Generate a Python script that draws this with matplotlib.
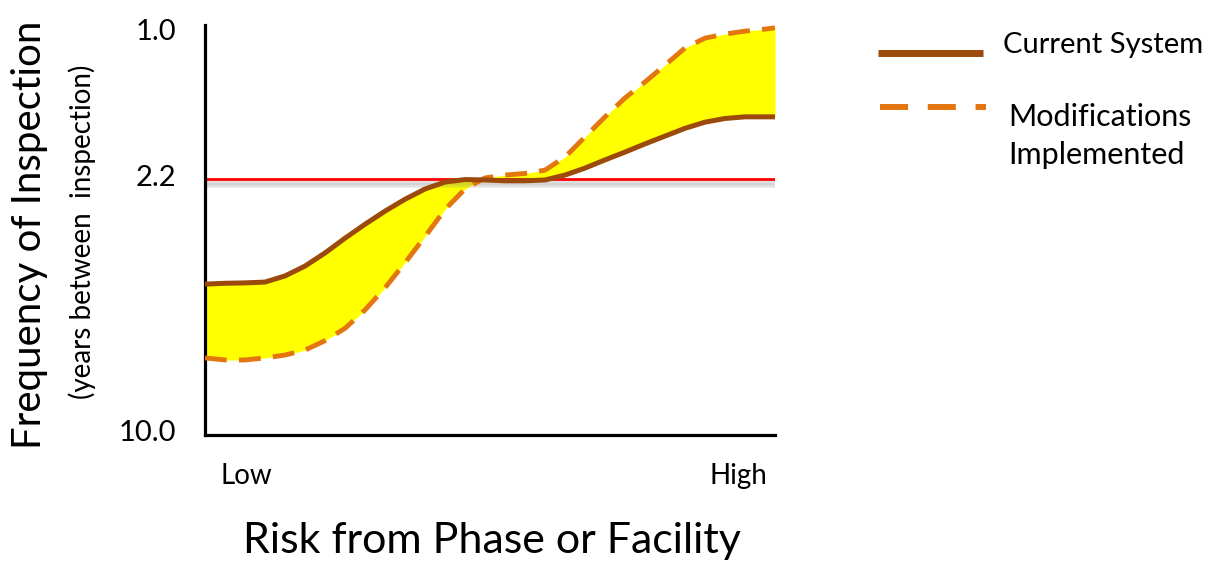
import matplotlib.pyplot as plt
import matplotlib.patheffects as pe
from matplotlib.lines import Line2D

# risk position along the x axis (0 = low, 100 = high)
risk = [0, 3.51, 7.02, 10.53, 14.04, 17.54, 21.05, 24.56, 28.07, 31.58,
        35.09, 38.60, 42.11, 45.61, 49.12, 52.63, 56.14, 59.65, 63.16, 66.67,
        70.18, 73.68, 77.19, 80.70, 84.21, 87.72, 91.23, 94.74, 98.25, 100]
# vertical position on the inspection-frequency axis (0 = 10.0 yrs, 100 = 1.0 yr)
current_system = [36.8, 37.0, 37.1, 37.3, 38.8, 41.2, 44.4, 48.0, 51.4, 54.6,
                  57.5, 60.0, 61.7, 62.3, 62.2, 62.0, 62.0, 62.2, 63.4, 65.1,
                  67.1, 69.0, 71.0, 72.9, 74.8, 76.3, 77.2, 77.6, 77.6, 77.6]
modifications = [18.8, 18.3, 18.3, 18.8, 19.5, 20.7, 23.0, 26.0, 30.5, 35.9,
                 42.0, 48.4, 55.0, 60.0, 62.7, 63.4, 63.8, 64.6, 67.8, 72.7,
                 77.6, 82.2, 86.1, 90.2, 94.4, 96.8, 97.8, 98.5, 99.0, 99.3]
threshold = 62.4
tick_pos = [1.2, 63.4, 98.8]
tick_labels = ['10.0', '2.2', '1.0']

brown = '#9C4A0B'
orange = '#E4760F'

plt.rcParams['font.family'] = ['Lato', 'DejaVu Sans']

fig = plt.figure(figsize=(12.11, 5.61), dpi=100)
ax = fig.add_axes([205 / 1211, 1 - 435 / 561, 570 / 1211, 410 / 561])

ax.fill_between(risk, current_system, modifications, color='#FFFF00', lw=0, zorder=1)
shadow = [pe.SimpleLineShadow(offset=(0, -o), shadow_color='gray', alpha=0.12, linewidth=3)
          for o in (2, 3, 4, 5)]
ax.axhline(threshold, color='red', lw=2, zorder=2, path_effects=shadow + [pe.Normal()])
ax.plot(risk, modifications, color=orange, lw=3.5, dashes=(4.5, 2.5), zorder=3)
ax.plot(risk, current_system, color=brown, lw=3.6, zorder=4,
        solid_capstyle='butt', solid_joinstyle='round')

ax.set_xlim(0, 100)
ax.set_ylim(0, 100)
for s in ['top', 'right']:
    ax.spines[s].set_visible(False)
for s in ['left', 'bottom']:
    ax.spines[s].set_linewidth(2.3)
ax.set_yticks(tick_pos)
ax.set_yticklabels(tick_labels, fontsize=21)
ax.tick_params(axis='y', length=0, pad=21)
ax.set_xticks([])

ax.text(0.072, -0.1, 'Low', transform=ax.transAxes, fontsize=20, ha='center', va='center')
ax.text(0.935, -0.1, 'High', transform=ax.transAxes, fontsize=20, ha='center', va='center')

fig.text(492 / 1211, 1 - 541 / 561, 'Risk from Phase or Facility', fontsize=31,
         ha='center', va='center')
fig.text(30 / 1211, 1 - 235 / 561, 'Frequency of Inspection', fontsize=29,
         rotation=90, ha='center', va='center')
fig.text(82 / 1211, 1 - 232 / 561, '(years between  inspection)', fontsize=20,
         rotation=90, ha='center', va='center')

# legend drawn by hand to match the layout
fig.add_artist(Line2D([878 / 1211, 983 / 1211], [1 - 53 / 561, 1 - 53 / 561],
                      color=brown, lw=5, solid_capstyle='butt'))
fig.text(1003 / 1211, 1 - 45 / 561, 'Current System', fontsize=21, ha='left', va='center')
fig.add_artist(Line2D([880 / 1211, 986 / 1211], [1 - 107 / 561, 1 - 107 / 561],
                      color=orange, lw=4.3, dashes=(4.7, 3.3)))
fig.text(1008 / 1211, 1 - 136 / 561, 'Modifications\nImplemented', fontsize=22,
         ha='left', va='center', linespacing=1.45)

fig.savefig('out.png', dpi=100)
